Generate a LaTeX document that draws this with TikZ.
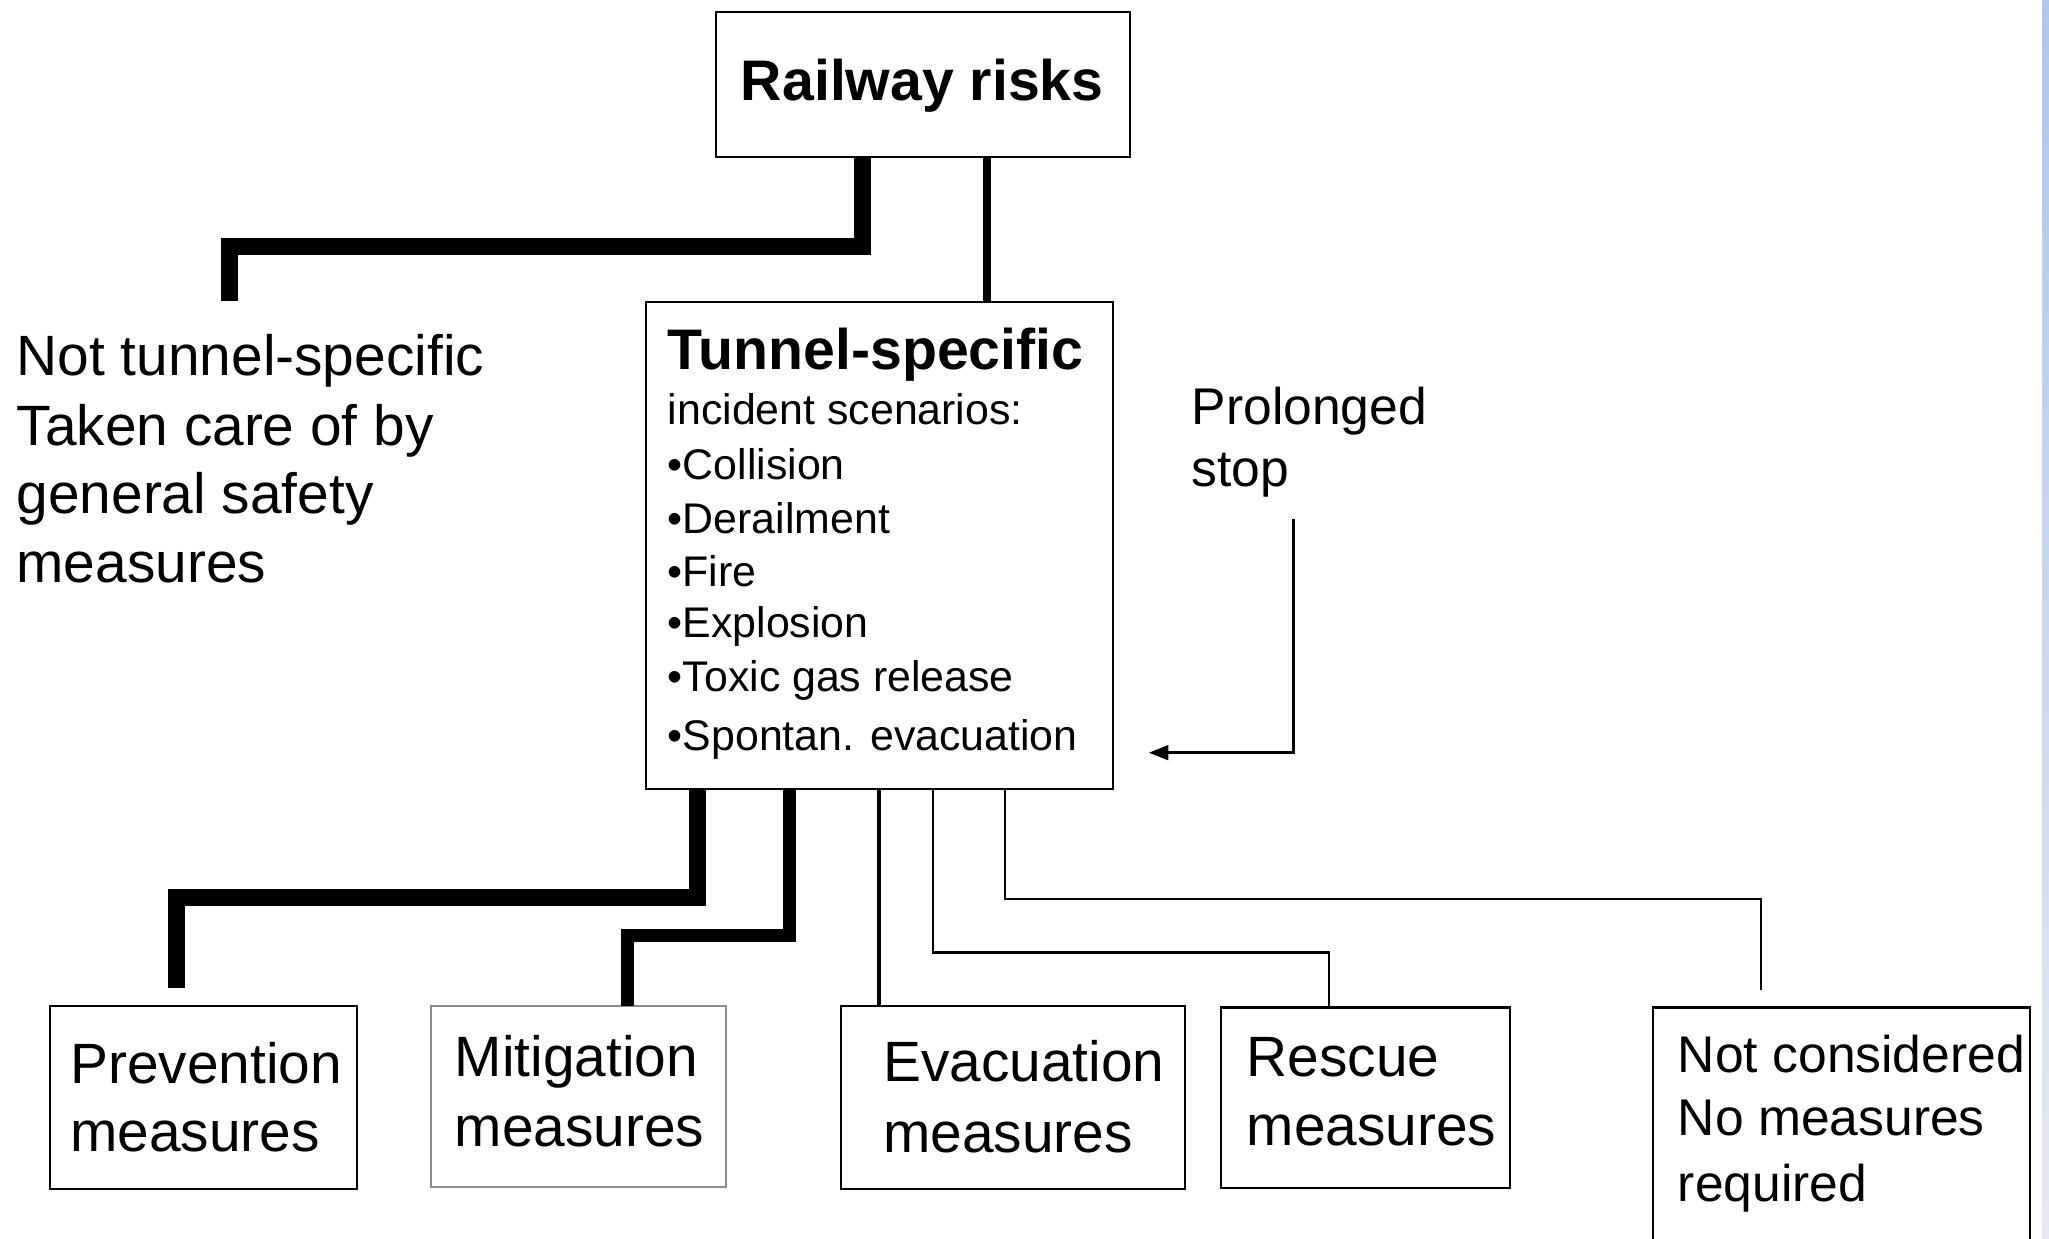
\documentclass[tikz,border=0pt]{standalone}
\usepackage{fontspec}
\setmainfont{Liberation Sans}
\usetikzlibrary{arrows.meta}
\begin{document}
\begin{tikzpicture}[x=1pt,y=-1pt,
  box/.style={draw=black,line width=1.6pt,rectangle,inner sep=0pt,outer sep=0pt},
  greybox/.style={box,draw={rgb,255:red,140;green,140;blue,140}},
  txt/.style={anchor=base west,inner sep=0pt,outer sep=0pt},
  bigb/.style={txt,font=\fontsize{43.8}{50}\bfseries\selectfont},
  big/.style={txt,font=\fontsize{43.5}{50}\selectfont},
  med/.style={txt,font=\fontsize{39.5}{46}\selectfont},
  small/.style={txt,font=\fontsize{32.8}{38}\selectfont},
  conA/.style={line width=13pt,line join=miter},
  conB/.style={line width=10pt,line join=miter},
  conC/.style={line width=6pt},
  conD/.style={line width=3pt},
  conE/.style={line width=2pt,line join=miter},
  arr/.style={line width=2.5pt,-{Triangle[length=15pt,width=11pt]}}]
\clip (0,0) rectangle (1568,948);
\fill[white] (0,0) rectangle (1568,948);
\shade[top color={rgb,255:red,172;green,199;blue,236},bottom color={rgb,255:red,228;green,233;blue,243}] (1563,0) rectangle (1568,948);

% boxes
\node[box,minimum width=317pt,minimum height=111pt] (rr) at (706.5,64.5) {};
\node[box,minimum width=358pt,minimum height=373pt] (ts) at (673,417.5) {};
\node[box,minimum width=234.5pt,minimum height=140pt] (prev) at (155.75,840) {};
\node[greybox,minimum width=226pt,minimum height=138.5pt] (mit) at (442.5,839.25) {};
\node[box,minimum width=263.3pt,minimum height=140pt] (evac) at (775.15,840) {};
\node[box,minimum width=221pt,minimum height=138pt] (resc) at (1044.85,840) {};
\node[box,minimum width=288.8pt,minimum height=200pt] (nc) at (1409.1,871) {};

% texts
\node[bigb] (rrT) at (567,77) {Railway risks};
\node[bigb] (tsT) at (511,283) {Tunnel-specific};
\node[small] (tsI) at (511,325) {incident scenarios:};
\node[small] (tsA) at (511,367) {•Collision};
\node[small] (tsB) at (511,408) {•Derailment};
\node[small] (tsC) at (511,449) {•Fire};
\node[small] (tsD) at (511,488) {•Explosion};
\node[small] (tsE) at (511,529.5) {•Toxic gas release};
\node[small] (tsF) at (511,574) {•Spontan. evacuation};

\node[med] (ps1) at (912,325) {Prolonged};
\node[med] (ps2) at (912,372.6) {stop};

\node[big] (nt1) at (12.7,287.7) {Not tunnel-specific};
\node[big] (nt2) at (12.7,340.6) {Taken care of by};
\node[big] (nt3) at (12.7,392.7) {general safety};
\node[big] (nt4) at (12.7,445.9) {measures};

\node[big] (prevT1) at (53.7,829) {Prevention};
\node[big] (prevT2) at (53.7,881) {measures};
\node[big] (mitT1) at (348,824) {Mitigation};
\node[big] (mitT2) at (348,877.5) {measures};
\node[big] (evacT1) at (676,827.7) {Evacuation};
\node[big] (evacT2) at (676,881.6) {measures};
\node[big] (rescT1) at (954,824) {Rescue};
\node[big] (rescT2) at (954,876.7) {measures};
\node[med] (ncT1) at (1284,821) {Not considered};
\node[med] (ncT2) at (1284,868.6) {No measures};
\node[med] (ncT3) at (1284,919.6) {required};

% free ends
\coordinate (ntsend) at (176,230);
\coordinate (psstart) at (990,397);

% connectors
\draw[conA] ([xshift=112pt]rr.south west) -- ++(0,69) -| (ntsend);
\draw[conC] ([xshift=207pt]rr.south west) -- ([xshift=261pt]ts.north west);

\draw[conA] ([xshift=40pt]ts.south west) -- ++(0,83) -| ([xshift=96.5pt,yshift=14pt]prev.north west);
\draw[conB] ([xshift=110pt]ts.south west) -- ++(0,111.6) -| ([xshift=151pt]mit.north west);
\draw[conD] ([xshift=178.5pt]ts.south west) -- ([xshift=29pt]evac.north west);
\draw[conE] ([xshift=220pt]ts.south west) -- ++(0,125) -| ([xshift=82.6pt]resc.north west);
\draw[conE] ([xshift=275pt]ts.south west) -- ++(0,84) -| ([xshift=83pt,yshift=13.4pt]nc.north west);

\draw[arr] (psstart) |- ([xshift=27pt,yshift=28pt]ts.south east);
\end{tikzpicture}
\end{document}
